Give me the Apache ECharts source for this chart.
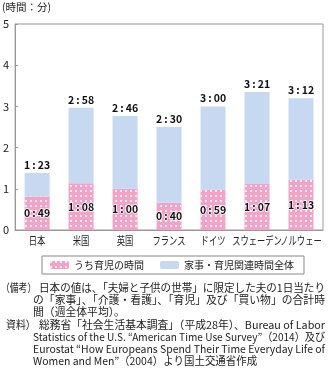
<!DOCTYPE html>
<html><head><meta charset="utf-8">
<script src="https://cdn.jsdelivr.net/npm/echarts@6/dist/echarts.min.js"></script>
<style>html,body{margin:0;padding:0;background:#fff}#c{width:332px;height:371px}</style>
</head><body><div id="c"></div>
<script>
const categories = ['日本','米国','英国','フランス','ドイツ','スウェーデン','ノルウェー'];
const totalLabels = ['1:23','2:58','2:46','2:30','3:00','3:21','3:12'];
const childLabels = ['0:49','1:08','1:00','0:40','0:59','1:07','1:13'];
const yTicks = [0,1,2,3,4,5];
const seriesNames = ['うち育児の時間','家事・育児関連時間全体'];
const unitLabel = '(時間：分)';
const notes = [
  ['（備考）','日本の値は、「夫婦と子供の世帯」に限定した夫の1日当たり'],
  ['','の「家事」、「介護・看護」、「育児」及び「買い物」の合計時'],
  ['','間（週全体平均）。'],
  ['資料）','総務省「社会生活基本調査」（平成28年）、Bureau of Labor'],
  ['','Statistics of the U.S. “American Time Use Survey”（2014）及び'],
  ['','Eurostat “How Europeans Spend Their Time Everyday Life of'],
  ['','Women and Men”（2004）より国土交通省作成']
];
const toHours = s => { const p = s.split(':'); return +p[0] + (+p[1])/60; };
const fmt = s => s.replace(':', '\u2009:\u2009');
const totals = totalLabels.map(toHours);
const childs = childLabels.map(toHours);
const rest = totals.map((t,i)=>+(t-childs[i]).toFixed(4));

const FONT = '"Noto Sans CJK JP", sans-serif';
const chart = echarts.init(document.getElementById('c'));
chart.setOption({
  animation:false,
  textStyle:{fontFamily:FONT},
  grid:{left:14, right:9, top:24, bottom:141, show:true, borderColor:'#999', borderWidth:1},
  legend:{
    data:seriesNames, left:42, top:256, itemWidth:19, itemHeight:8, itemGap:16,
    padding:[4,10,4,8], borderColor:'#888', borderWidth:1,
    textStyle:{fontSize:10, color:'#222', fontFamily:FONT}
  },
  xAxis:{type:'category', data:categories,
    axisLine:{lineStyle:{color:'#999'}},
    axisTick:{inside:true, length:4, lineStyle:{color:'#999'}},
    axisLabel:{show:false}},
  yAxis:{type:'value', min:0, max:5, interval:1,
    axisLine:{show:true, lineStyle:{color:'#999'}},
    axisTick:{show:true, inside:true, length:3, lineStyle:{color:'#999'}},
    splitLine:{show:false},
    axisLabel:{color:'#222', fontSize:11, margin:6, formatter:v=>yTicks.includes(v)?String(v):''}},
  series:[
    {name:seriesNames[0], type:'bar', stack:'a', data:childs, barWidth:25,
     itemStyle:{color:'#F2A3C8', decal:{symbol:'circle', color:'#fff', symbolSize:1, dashArrayX:[2,3], dashArrayY:[2,3]}},
     label:{show:true, position:'inside', formatter:p=>fmt(childLabels[p.dataIndex]), color:'#111', fontSize:10.5, fontWeight:'bold',
       textBorderColor:'#fff', textBorderWidth:1.5}},
    {name:seriesNames[1], type:'bar', stack:'a', data:rest, barWidth:25,
     itemStyle:{color:'#C6D9F0'},
     label:{show:true, position:'top', distance:3, formatter:p=>fmt(totalLabels[p.dataIndex]), color:'#111', fontSize:10.5, fontWeight:'bold'}}
  ]
});

const ctx = document.createElement('canvas').getContext('2d');
const NOTE_FONT = '11px "Noto Sans CJK JP"';
ctx.font = NOTE_FONT;
const graphics = [{type:'text', x:2, y:2, style:{text:unitLabel, font:'10.5px '+FONT, fill:'#222'}}];
const y0 = chart.convertToPixel({yAxisIndex:0}, 0);
categories.forEach(c=>{
  const x = chart.convertToPixel({xAxisIndex:0}, c);
  graphics.push({type:'text', x:x, y:y0+5, scaleX:0.72, style:{text:c, font:'11.5px '+FONT, fill:'#222', textAlign:'center', textVerticalAlign:'top'}});
});
const RIGHT = 325;
let lastScale = 0.9;
notes.forEach((n,i)=>{
  const y = 282 + i*12.3;
  if (n[0]) graphics.push({type:'text', x: n[0]==='資料）'?6:1, y:y, scaleX: n[0]==='資料）'?0.9:0.8, style:{text:n[0], font:NOTE_FONT, fill:'#222'}});
  const left = (i===0||i===3)?39:33;
  const w = ctx.measureText(n[1]).width;
  let s;
  if (i===2 || i===6) s = lastScale; else { s = Math.min(1, (RIGHT-left)/w); lastScale = s; }
  graphics.push({type:'text', x:left, y:y, scaleX:s, style:{text:n[1], font:NOTE_FONT, fill:'#222'}});
});
chart.setOption({graphic:graphics});
</script></body></html>
